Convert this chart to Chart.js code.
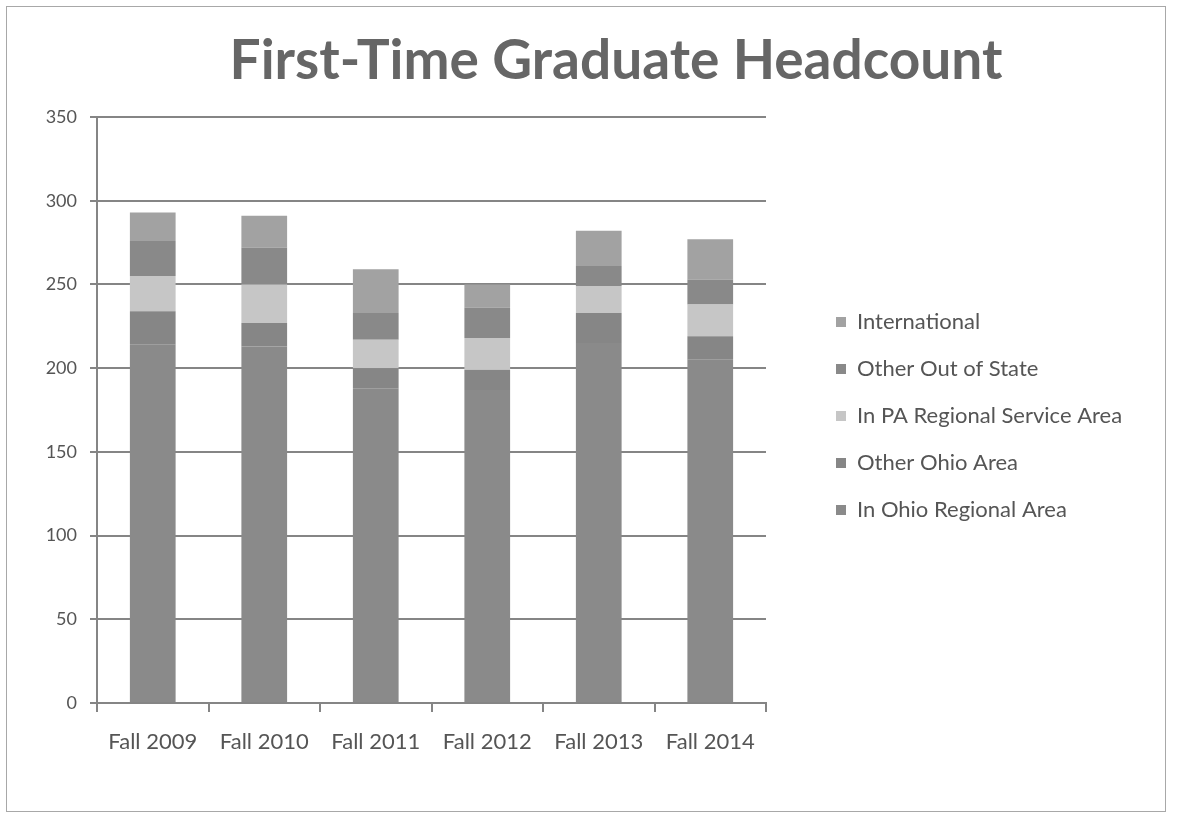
<!DOCTYPE html>
<html>
<head>
<meta charset="utf-8">
<script src="https://cdn.jsdelivr.net/npm/chart.js@4.4.1/dist/chart.umd.min.js"></script>
<style>
  html, body { margin: 0; padding: 0; background: #fff; }
  #wrap { position: relative; width: 1178px; height: 819px; overflow: hidden; }
  #frame { position: absolute; left: 6px; top: 6px; width: 1160px; height: 806px; border: 1px solid #a8a8a8; box-sizing: border-box; }
  #title { position: absolute; left: 0; width: 1232px; top: 25px; text-align: center; font-family: Lato, "Open Sans", sans-serif; font-weight: bold; font-size: 55px; line-height: 66px; color: #666; }
  canvas { position: absolute; left: 0; top: 0; }
</style>
</head>
<body>
<div id="wrap">
  <div id="frame"></div>
  <div id="title">First-Time Graduate Headcount</div>
  <canvas id="c" width="1178" height="819"></canvas>
</div>
<script>
const categories = ["Fall 2009", "Fall 2010", "Fall 2011", "Fall 2012", "Fall 2013", "Fall 2014"];
const inOhioRegional = [214, 213, 188, 187, 215, 205];
const otherOhio      = [20, 14, 12, 12, 18, 14];
const inPARegional   = [21, 23, 17, 19, 16, 19];
const otherOutState  = [21, 22, 16, 18, 12, 15];
const international  = [17, 19, 26, 14, 21, 24];
const yTicks = [0, 50, 100, 150, 200, 250, 300, 350];

const font = "Lato, 'Open Sans', sans-serif";
const LEGEND_PAD = 25;

const legendPlacer = {
  id: 'legendPlacer',
  beforeLayout(chart) {
    const lg = chart.legend;
    if (lg && !lg._patched) {
      const orig = lg.fit;
      lg.fit = function () { orig.call(this); this.width = 1178 - 766; };
      lg._patched = true;
    }
  },
  afterLayout(chart) {
    const lg = chart.legend;
    if (!lg) return;
    const w = lg.width, h = lg.height;
    lg.left = 836 - LEGEND_PAD; lg.right = lg.left + w;
    const cy = 416;
    lg.top = cy - h / 2; lg.bottom = lg.top + h;
  }
};

const chart = new Chart(document.getElementById('c'), {
  type: 'bar',
  data: {
    labels: categories,
    datasets: [
      { label: 'In Ohio Regional Area', data: inOhioRegional, backgroundColor: '#8a8a8a' },
      { label: 'Other Ohio Area', data: otherOhio, backgroundColor: '#868686' },
      { label: 'In PA Regional Service Area', data: inPARegional, backgroundColor: '#c6c6c6' },
      { label: 'Other Out of State', data: otherOutState, backgroundColor: '#898989' },
      { label: 'International', data: international, backgroundColor: '#a2a2a2' }
    ]
  },
  plugins: [legendPlacer],
  options: {
    responsive: false,
    animation: false,
    barPercentage: 0.82,
    categoryPercentage: 0.5,
    layout: { padding: { top: 117, right: 0, left: 0, bottom: 0 } },
    plugins: {
      title: { display: false },
      tooltip: { enabled: false },
      legend: {
        position: 'right',
        reverse: true,
        labels: {
          boxWidth: 10, boxHeight: 10, padding: LEGEND_PAD,
          color: '#555',
          font: { family: font, size: 22 }
        }
      }
    },
    scales: {
      x: {
        stacked: true,
        afterFit: s => { s.height = 116; },
        border: { display: true, color: '#858585', width: 2 },
        grid: { display: true, drawOnChartArea: false, drawTicks: true, tickLength: 9, color: '#858585', lineWidth: 2, offset: true },
        ticks: { color: '#555', font: { family: font, size: 22 }, padding: 17, maxRotation: 0 }
      },
      y: {
        stacked: true,
        min: 0, max: 350,
        afterFit: s => { s.width = 97; },
        afterBuildTicks: s => { s.ticks = yTicks.map(v => ({ value: v })); },
        border: { display: true, color: '#858585', width: 2 },
        grid: { color: '#858585', lineWidth: 2, tickLength: 7 },
        ticks: { color: '#555', font: { family: font, size: 18 }, padding: 13 }
      }
    }
  }
});
</script>
</body>
</html>
